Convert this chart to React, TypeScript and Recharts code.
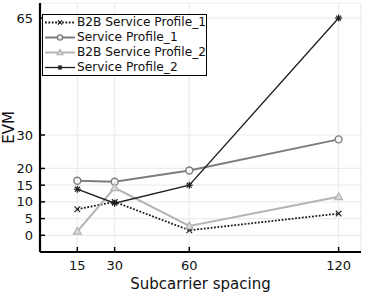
import { CartesianGrid, Legend, Line, LineChart, XAxis, YAxis } from "recharts";

const spacing = [15, 30, 60, 120];
const b2bProfile1 = [7.8, 10, 1.5, 6.5];
const profile1 = [16.3, 16, 19.4, 28.7];
const b2bProfile2 = [1.2, 14.2, 2.8, 11.5];
const profile2 = [13.8, 9.6, 15, 65];
const yTicks = [0, 5, 10, 15, 20, 30, 65];

const data = spacing.map((s, i) => ({
  spacing: s,
  b2b1: b2bProfile1[i],
  sp1: profile1[i],
  b2b2: b2bProfile2[i],
  sp2: profile2[i],
}));

const FONT = "'DejaVu Sans', sans-serif";

type Kind = "cross" | "circle" | "triangle" | "star";

const series = [
  { key: "b2b1", name: "B2B Service Profile_1", color: "#1a1a1a", width: 1.8, dash: "1.8 1.6", marker: "cross" as Kind },
  { key: "sp1", name: "Service Profile_1", color: "#7d7d7d", width: 2, dash: undefined, marker: "circle" as Kind },
  { key: "b2b2", name: "B2B Service Profile_2", color: "#b4b4b4", width: 2, dash: undefined, marker: "triangle" as Kind },
  { key: "sp2", name: "Service Profile_2", color: "#1e1e1e", width: 1.3, dash: undefined, marker: "star" as Kind },
];

const Marker = ({ cx, cy, kind, color, s = 3.5 }: { cx: number; cy: number; kind: Kind; color: string; s?: number }) => {
  if (cx == null || cy == null) return null;
  if (kind === "cross") {
    return (
      <g stroke={color} strokeWidth={1.1}>
        <line x1={cx - s * 0.8} y1={cy - s * 0.8} x2={cx + s * 0.8} y2={cy + s * 0.8} />
        <line x1={cx - s * 0.8} y1={cy + s * 0.8} x2={cx + s * 0.8} y2={cy - s * 0.8} />
      </g>
    );
  }
  if (kind === "circle") {
    return <circle cx={cx} cy={cy} r={s} fill="#f4f4f4" stroke={color} strokeWidth={1.4} />;
  }
  if (kind === "triangle") {
    return (
      <polygon
        points={`${cx},${cy - s * 1.1} ${cx - s * 1.1},${cy + s * 0.8} ${cx + s * 1.1},${cy + s * 0.8}`}
        fill="#dadada"
        stroke={color}
        strokeWidth={1.3}
      />
    );
  }
  return (
    <g stroke={color} strokeWidth={1.2}>
      <line x1={cx - s} y1={cy} x2={cx + s} y2={cy} />
      <line x1={cx} y1={cy - s} x2={cx} y2={cy + s} />
      <line x1={cx - s * 0.7} y1={cy - s * 0.7} x2={cx + s * 0.7} y2={cy + s * 0.7} />
      <line x1={cx - s * 0.7} y1={cy + s * 0.7} x2={cx + s * 0.7} y2={cy - s * 0.7} />
    </g>
  );
};

const BottomTick = ({ x, y, payload }: any) => (
  <g>
    <line x1={x} y1={y} x2={x} y2={y - 5} stroke="#000" strokeWidth={1.5} />
    <text x={x} y={y + 18} textAnchor="middle" fontSize={13} fontFamily={FONT} fill="#111">
      {payload.value}
    </text>
  </g>
);

const TopTick = ({ x, y }: any) => <line x1={x} y1={y} x2={x} y2={y + 5} stroke="#000" strokeWidth={1.5} />;

const LeftTick = ({ x, y, payload }: any) => (
  <g>
    <line x1={x} y1={y} x2={x + 5} y2={y} stroke="#000" strokeWidth={1.5} />
    <text x={x - 7} y={y + 4.5} textAnchor="end" fontSize={13} fontFamily={FONT} fill="#111">
      {payload.value}
    </text>
  </g>
);

const RightTick = ({ x, y }: any) => <line x1={x} y1={y} x2={x - 5} y2={y} stroke="#000" strokeWidth={1.5} />;

const LegendBox = () => (
  <div
    style={{
      border: "1.5px solid #000",
      background: "#fff",
      width: 163,
      height: 60,
      fontFamily: FONT,
      fontSize: 12.2,
      color: "#111",
      boxSizing: "content-box",
    }}
  >
    {series.map((s) => (
      <div key={s.key} style={{ display: "flex", alignItems: "center", height: 15, marginTop: 0 }}>
        <svg width={34} height={15} style={{ display: "block" }}>
          <line x1={2} y1={7.5} x2={32} y2={7.5} stroke={s.color} strokeWidth={s.width} strokeDasharray={s.dash} />
          <Marker cx={17} cy={7.5} kind={s.marker} color={s.color} s={2.6} />
        </svg>
        <span style={{ whiteSpace: "nowrap", lineHeight: "15px" }}>{s.name}</span>
      </div>
    ))}
  </div>
);

export default function App() {
  return (
    <div style={{ position: "absolute", left: 0, top: 0, width: 365, height: 292, background: "#fff" }}>
      <LineChart width={365} height={292} data={data} margin={{ top: 3, right: 4, bottom: 0, left: 0 }}>
        <CartesianGrid xAxisId="b" yAxisId="l" stroke="#ececec" strokeWidth={1.2} />
        <XAxis
          xAxisId="b"
          dataKey="spacing"
          type="number"
          domain={[0, 129]}
          ticks={spacing}
          interval={0}
          allowDataOverflow
          height={40}
          tickSize={0}
          tickMargin={0}
          tickLine={false}
          tick={BottomTick}
          axisLine={{ stroke: "#000", strokeWidth: 2.2 }}
          label={{
            value: "Subcarrier spacing",
            position: "insideBottom",
            offset: 3,
            style: { fontFamily: FONT, fontSize: 15, fill: "#111" },
          }}
        />
        <XAxis
          xAxisId="t"
          orientation="top"
          dataKey="spacing"
          type="number"
          domain={[0, 129]}
          ticks={spacing}
          interval={0}
          allowDataOverflow
          height={0}
          tickSize={0}
          tickMargin={0}
          tickLine={false}
          tick={TopTick}
          axisLine={{ stroke: "#000", strokeWidth: 2.2 }}
        />
        <YAxis
          yAxisId="l"
          type="number"
          domain={[-5, 69.5]}
          ticks={yTicks}
          interval={0}
          allowDataOverflow
          width={40}
          tickSize={0}
          tickMargin={0}
          tickLine={false}
          tick={LeftTick}
          axisLine={{ stroke: "#000", strokeWidth: 2.2 }}
          label={{
            value: "EVM",
            angle: -90,
            position: "insideLeft",
            offset: 9,
            style: { fontFamily: FONT, fontSize: 15, fill: "#111", textAnchor: "middle" },
          }}
        />
        <YAxis
          yAxisId="r"
          orientation="right"
          type="number"
          domain={[-5, 69.5]}
          ticks={yTicks}
          interval={0}
          allowDataOverflow
          width={0}
          tickSize={0}
          tickMargin={0}
          tickLine={false}
          tick={RightTick}
          axisLine={{ stroke: "#000", strokeWidth: 2.2 }}
        />
        <Legend
          layout="vertical"
          align="center"
          verticalAlign="middle"
          wrapperStyle={{ left: 42, top: 14, width: "auto" }}
          content={LegendBox}
        />
        {series.map((s) => (
          <Line
            key={s.key}
            xAxisId="b"
            yAxisId="l"
            dataKey={s.key}
            name={s.name}
            stroke={s.color}
            strokeWidth={s.width}
            strokeDasharray={s.dash}
            isAnimationActive={false}
            dot={(p: any) => <Marker key={`${s.key}-${p.index}`} cx={p.cx} cy={p.cy} kind={s.marker} color={s.color} />}
            activeDot={false}
          />
        ))}
      </LineChart>
    </div>
  );
}
